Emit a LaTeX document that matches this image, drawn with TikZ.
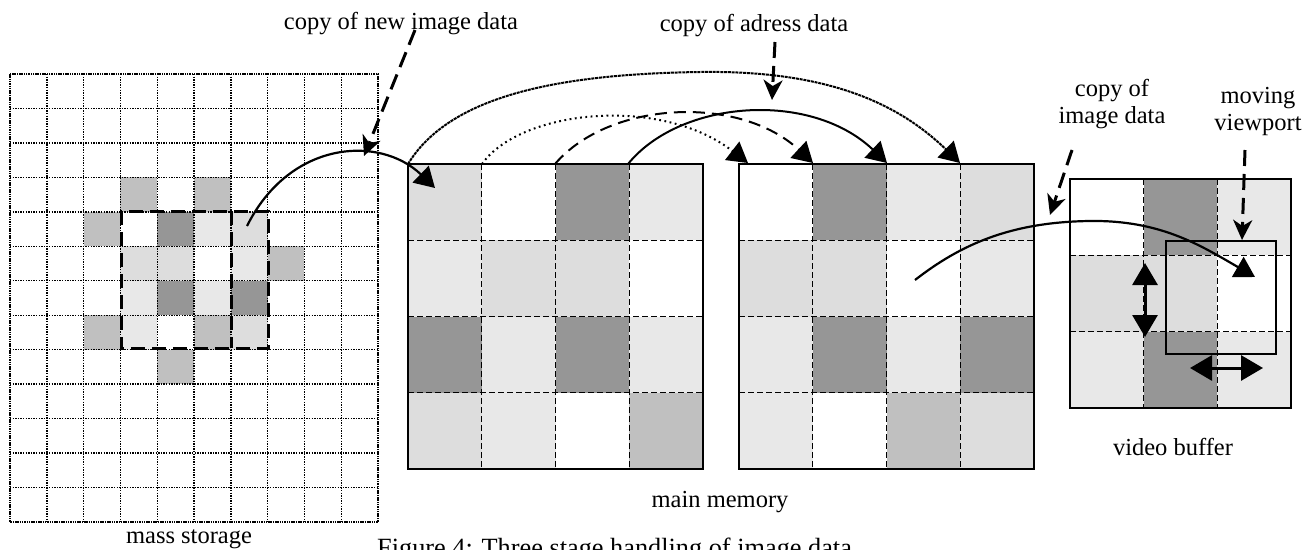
\documentclass[tikz,border=0pt]{standalone}
\usepackage{fontspec}
\setmainfont{Liberation Serif}
\usetikzlibrary{arrows.meta}
\definecolor{gD}{HTML}{969696}
\definecolor{gM}{HTML}{C0C0C0}
\definecolor{gA}{HTML}{DDDDDD}
\definecolor{gB}{HTML}{E8E8E8}
\definecolor{gW}{HTML}{FFFFFF}
\tikzset{
  lbl/.style={font=\fontsize{24.5}{27}\selectfont, inner sep=0pt, align=center},
  ptr/.style={line width=3pt, dash pattern=on 16pt off 8pt, -{Stealth[length=20pt,width=19pt,inset=6pt]}},
  tri/.style={-{Triangle[length=20pt,width=23pt]}},
  msgrid/.style={line width=1.4pt, dash pattern=on 1.4pt off 1.2pt},
  msborder/.style={line width=2pt, dash pattern=on 1.5pt off 0.8pt},
  mmgrid/.style={line width=1.3pt, dash pattern=on 6pt off 3pt},
  mmborder/.style={line width=2pt},
  selbox/.style={line width=3pt, dash pattern=on 14pt off 7pt},
  dbl/.style={line width=3pt, {Triangle[length=22pt,width=25pt]}-{Triangle[length=22pt,width=25pt]}}
}
\begin{document}
\begin{tikzpicture}[x=1pt,y=-1pt]
\useasboundingbox (0,0) rectangle (1304,549);
% ---------------- mass storage ----------------
\foreach \r/\c/\col in {3/3/gM,3/5/gM,4/2/gM,4/3/gW,4/4/gD,4/5/gB,4/6/gA,5/3/gA,5/4/gA,5/5/gW,5/6/gB,5/7/gM,6/3/gB,6/4/gD,6/5/gB,6/6/gD,7/2/gM,7/3/gB,7/4/gW,7/5/gM,7/6/gA,8/4/gM}
  \fill[\col] ({10+\c*36.8},{74+\r*34.46}) rectangle ++(36.8,34.46);
\foreach \i in {1,...,9} \draw[msgrid] ({10+\i*36.8},74) -- ({10+\i*36.8},522);
\foreach \j in {1,...,12} \draw[msgrid] (10,{74+\j*34.46}) -- (378,{74+\j*34.46});
\draw[msborder] (10,74) rectangle (378,522);
\draw[selbox] (121,211) rectangle (268,348);
\draw[selbox] (231,211) -- (231,348);
% ---------------- main memory grid 1 ----------------
\foreach \r/\c/\col in {0/0/gA,0/1/gW,0/2/gD,0/3/gB,1/0/gB,1/1/gA,1/2/gA,1/3/gW,2/0/gD,2/1/gB,2/2/gD,2/3/gB,3/0/gA,3/1/gB,3/2/gW,3/3/gM}
  \fill[\col] ({408+\c*73.75},{164+\r*76.25}) rectangle ++(73.75,76.25);
\foreach \i in {1,2,3} {
  \draw[mmgrid] ({408+\i*73.75},164) -- ({408+\i*73.75},469);
  \draw[mmgrid] (408,{164+\i*76.25}) -- (703,{164+\i*76.25});
}
\draw[mmborder] (408,164) rectangle (703,469);
% ---------------- main memory grid 2 ----------------
\foreach \r/\c/\col in {0/0/gW,0/1/gD,0/2/gB,0/3/gA,1/0/gA,1/1/gA,1/2/gW,1/3/gB,2/0/gB,2/1/gD,2/2/gB,2/3/gD,3/0/gB,3/1/gW,3/2/gM,3/3/gA}
  \fill[\col] ({739+\c*73.75},{164+\r*76.25}) rectangle ++(73.75,76.25);
\foreach \i in {1,2,3} {
  \draw[mmgrid] ({739+\i*73.75},164) -- ({739+\i*73.75},469);
  \draw[mmgrid] (739,{164+\i*76.25}) -- (1034,{164+\i*76.25});
}
\draw[mmborder] (739,164) rectangle (1034,469);
% ---------------- video buffer ----------------
\foreach \r/\c/\col in {0/0/gW,0/1/gD,0/2/gB,1/0/gA,1/1/gA,1/2/gW,2/0/gB,2/1/gD,2/2/gB}
  \fill[\col] ({1070+\c*73.67},{179+\r*76.33}) rectangle ++(73.67,76.33);
\foreach \i in {1,2} {
  \draw[mmgrid] ({1070+\i*73.67},179) -- ({1070+\i*73.67},408);
  \draw[mmgrid] (1070,{179+\i*76.33}) -- (1291,{179+\i*76.33});
}
\draw[mmborder] (1070,179) rectangle (1291,408);
\draw[line width=2.5pt] (1166,241) rectangle (1276,354);
% ---------------- coordinates ----------------
\coordinate (msSrc) at (247,226);
\coordinate (gOneIn) at (435,188);
\coordinate (gOneA) at (408,164);
\coordinate (gOneB) at (482,164);
\coordinate (gOneC) at (555,164);
\coordinate (gOneD) at (628,164);
\coordinate (gTwoA) at (748,163);
\coordinate (gTwoB) at (813,163);
\coordinate (gTwoC) at (887,163);
\coordinate (gTwoD) at (960,163);
\coordinate (gTwoSrc) at (915,280);
\coordinate (vbIn) at (1255,277);
\coordinate (vTop) at (1145,263);
\coordinate (vBot) at (1145,337);
\coordinate (hL) at (1190,368);
\coordinate (hR) at (1263,368);
% ---------------- labels ----------------
\node[lbl] (newlbl) at (401,24) {copy of new image data};
\node[lbl] (adrlbl) at (754,26) {copy of adress data};
\node[lbl] (imglbl) at (1112,104) {copy of\\image data};
\node[lbl] (vplbl) at (1258,111) {moving\\viewport};
\node[lbl] (vblbl) at (1173,447) {video buffer};
\node[lbl] (mslbl) at (189,539) {mass storage};
\node[lbl] (mmlbl) at (720,502) {main memory};
\node[font=\fontsize{26.3}{30}\selectfont, inner sep=0pt, anchor=base west] (cap) at (377,556) {Figure 4: Three stage handling of image data};
\coordinate (newP) at (415,30);
\coordinate (newT) at (364,156);
\coordinate (adrP) at (775,42);
\coordinate (adrT) at (772,100);
\coordinate (imgP) at (1072,150);
\coordinate (imgT) at (1050,215);
\coordinate (vpP) at (1245,150);
\coordinate (vpT) at (1242,240);
% ---------------- connectors ----------------
\draw[tri, line width=2.2pt] (msSrc) .. controls (290,140) and (380,135) .. (gOneIn);
\draw[tri, line width=2pt, dash pattern=on 3pt off 0.8pt] (gOneA) .. controls (450,95) and (560,74) .. (700,72) .. controls (830,70) and (900,105) .. (gTwoD);
\draw[tri, line width=2pt, dash pattern=on 1.8pt off 3.5pt] (gOneB) .. controls (520,110) and (660,95) .. (gTwoA);
\draw[tri, line width=2pt, dash pattern=on 12pt off 7pt] (gOneC) .. controls (610,100) and (740,95) .. (gTwoB);
\draw[tri, line width=2pt] (gOneD) .. controls (680,100) and (810,90) .. (gTwoC);
\draw[tri, line width=2.2pt] (gTwoSrc) .. controls (960,245) and (1010,222) .. (1090,221) .. controls (1160,220) and (1200,245) .. (vbIn);
\draw[dbl] (vTop) -- (vBot);
\draw[dbl] (hL) -- (hR);
\draw[ptr] (newP) -- (newT);
\draw[ptr] (adrP) -- (adrT);
\draw[ptr] (imgP) -- (imgT);
\draw[ptr] (vpP) -- (vpT);
\end{tikzpicture}
\end{document}
